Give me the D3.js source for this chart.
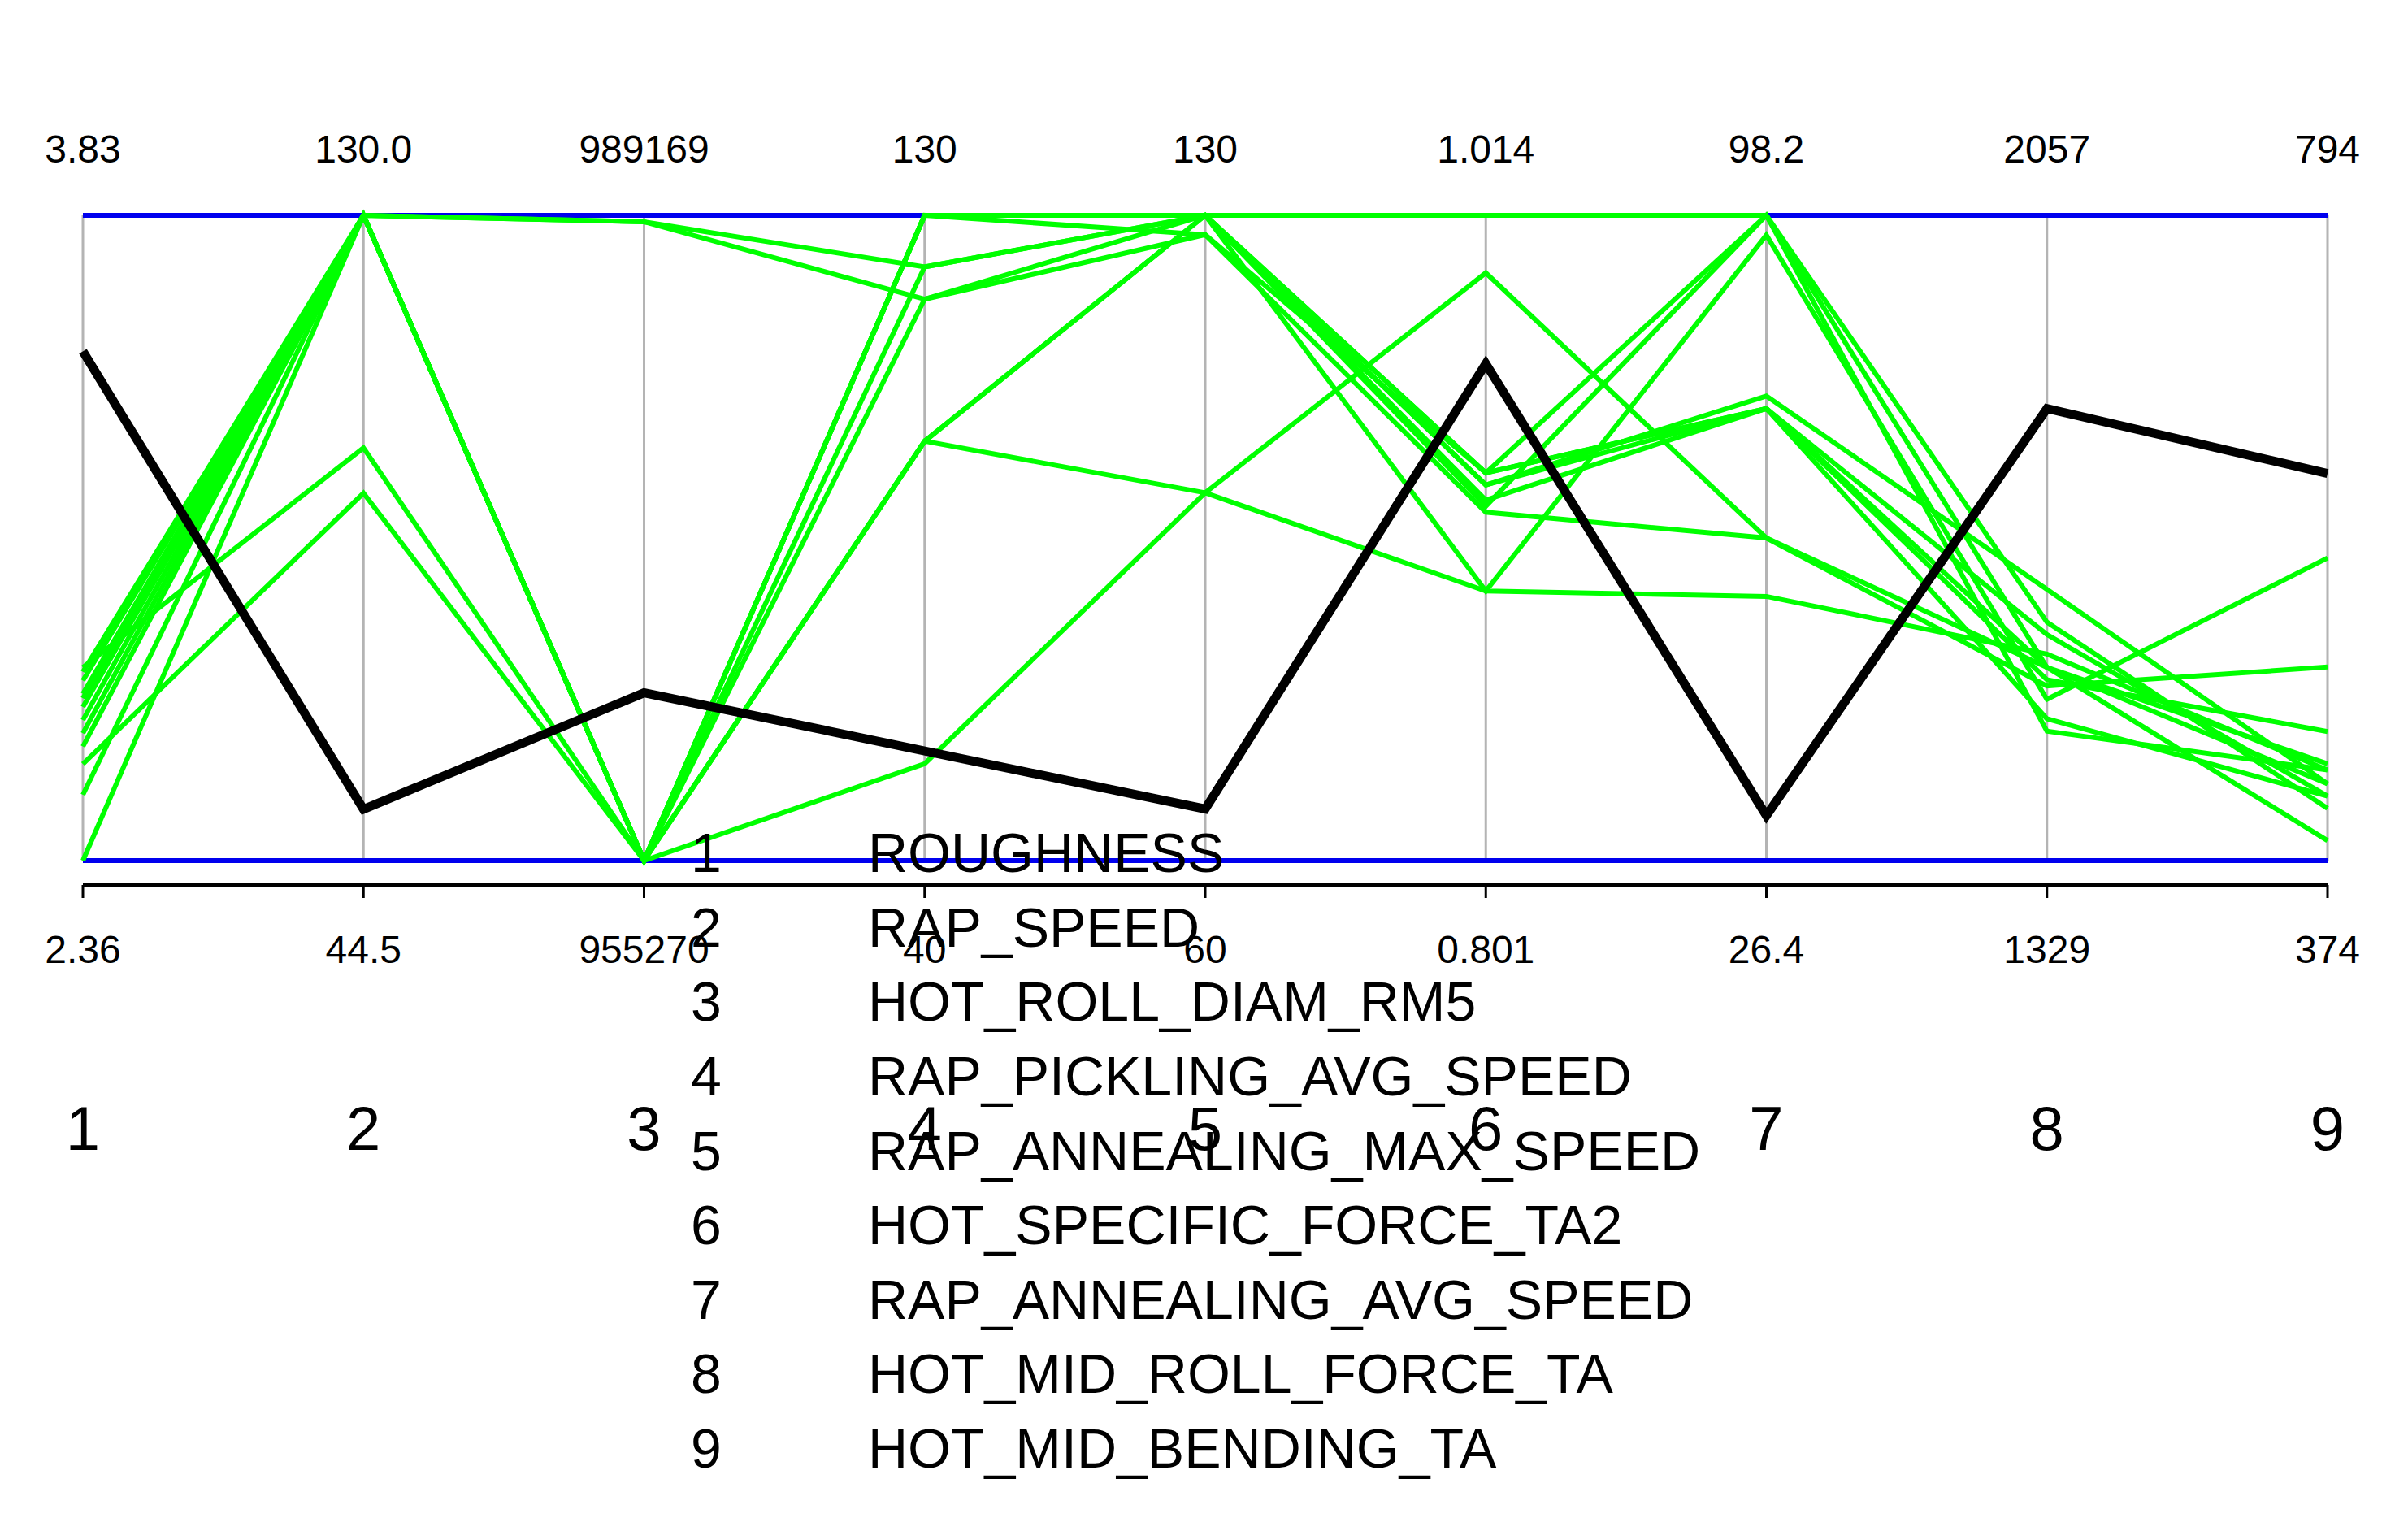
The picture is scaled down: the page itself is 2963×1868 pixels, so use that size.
<!DOCTYPE html>
<html><head><meta charset="utf-8">
<script src="https://cdn.jsdelivr.net/npm/d3@7"></script>
<style>body{margin:0;background:#fff}text{font-family:"Liberation Sans",Arial,sans-serif}</style>
</head><body>
<svg id="c" width="2963" height="1868"></svg>
<script>
const axisIds = ["1","2","3","4","5","6","7","8","9"];
const axisNames = ["ROUGHNESS","RAP_SPEED","HOT_ROLL_DIAM_RM5","RAP_PICKLING_AVG_SPEED","RAP_ANNEALING_MAX_SPEED","HOT_SPECIFIC_FORCE_TA2","RAP_ANNEALING_AVG_SPEED","HOT_MID_ROLL_FORCE_TA","HOT_MID_BENDING_TA"];
const axisMin = [2.36,44.5,955270,40,60,0.801,26.4,1329,374];
const axisMax = [3.83,130.0,989169,130,130,1.014,98.2,2057,794];
const minLabels = ["2.36","44.5","955270","40","60","0.801","26.4","1329","374"];
const maxLabels = ["3.83","130.0","989169","130","130","1.014","98.2","2057","794"];
const greenSeries = [
 [2.36,130.0,955270,130,130,0.918,98.2,1547,424],
 [2.79,130.0,955270,98.5,130,0.929,76.7,1584,416],
 [2.74,130.0,955270,122.8,130,0.925,76.7,1547,437],
 [2.62,130.0,955270,118.3,127.9,0.929,76.7,1533,458],
 [2.68,130.0,955270,130,130,0.890,96.0,1511,571],
 [2.80,99.2,955270,98.5,99.9,0.995,62.3,1547,387],
 [2.58,93.2,955270,53.5,99.9,0.890,55.8,1562,433],
 [2.65,130.0,988830,122.8,130,1.014,98.2,1598,408],
 [2.73,130.0,988830,118.3,130,0.920,76.7,1489,416],
 [2.51,130.0,955270,130,127.9,0.916,62.3,1526,500],
 [2.77,130.0,955270,98.5,130,0.925,78.1,1635,424],
 [2.71,130.0,955270,130,130,0.929,98.2,1475,433]
];
const blackSeries = [3.52,51.3,964084,55.3,65.6,0.965,31.4,1839,626];

const svg = d3.select("#c");
const yTop = 265, yBot = 1059;
const x = d3.scalePoint().domain(axisIds).range([102,2864]);
const ys = axisIds.map((d,i)=>d3.scaleLinear().domain([axisMin[i],axisMax[i]]).range([yBot,yTop]));
const line = d3.line().x((v,i)=>x(axisIds[i])).y((v,i)=>ys[i](v));

svg.selectAll(".ax").data(axisIds).enter().append("line")
 .attr("x1",d=>x(d)).attr("x2",d=>x(d)).attr("y1",yTop).attr("y2",yBot)
 .attr("stroke","#b4b4b4").attr("stroke-width",3);
[yTop,yBot].forEach(y=>svg.append("line").attr("x1",x("1")).attr("x2",x("9")).attr("y1",y).attr("y2",y)
 .attr("stroke","#0000ee").attr("stroke-width",6));
svg.append("line").attr("x1",x("1")).attr("x2",x("9")).attr("y1",1089).attr("y2",1089).attr("stroke","#000").attr("stroke-width",6);
svg.selectAll(".tk").data(axisIds).enter().append("line")
 .attr("x1",d=>x(d)).attr("x2",d=>x(d)).attr("y1",1089).attr("y2",1105).attr("stroke","#000").attr("stroke-width",3);

svg.selectAll(".g").data(greenSeries).enter().append("path")
 .attr("d",line).attr("fill","none").attr("stroke","#00ff00").attr("stroke-width",6);
svg.append("path").datum(blackSeries).attr("d",line).attr("fill","none").attr("stroke","#000").attr("stroke-width",11);

svg.selectAll(".mx").data(axisIds).enter().append("text")
 .attr("x",d=>x(d)).attr("y",200).attr("text-anchor","middle").attr("font-size",48).text((d,i)=>maxLabels[i]);
svg.selectAll(".mn").data(axisIds).enter().append("text")
 .attr("x",d=>x(d)).attr("y",1185).attr("text-anchor","middle").attr("font-size",48).text((d,i)=>minLabels[i]);
svg.selectAll(".id").data(axisIds).enter().append("text")
 .attr("x",d=>x(d)).attr("y",1415).attr("text-anchor","middle").attr("font-size",76).text(d=>d);

const ly = d3.scalePoint().domain(axisIds).range([1049,1782]);
svg.selectAll(".ln").data(axisIds).enter().append("text")
 .attr("x",869).attr("y",d=>ly(d)+24).attr("text-anchor","middle").attr("font-size",68).text(d=>d);
svg.selectAll(".lt").data(axisIds).enter().append("text")
 .attr("x",1068).attr("y",d=>ly(d)+24).attr("font-size",68).text((d,i)=>axisNames[i]);
</script>
</body></html>
